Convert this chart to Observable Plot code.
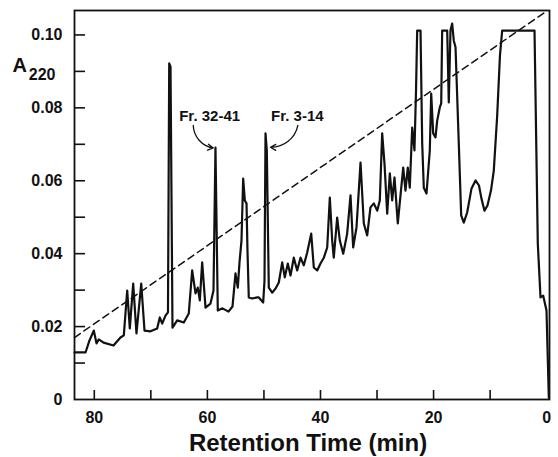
<!DOCTYPE html>
<html><head><meta charset="utf-8">
<script src="https://cdn.jsdelivr.net/npm/d3@7"></script>
<script src="https://cdn.jsdelivr.net/npm/@observablehq/plot@0.6"></script>
<style>body{margin:0;background:#fff}</style>
</head><body><div id="chart"></div>
<script>
// Chromatogram trace: retention time (min) and absorbance at 220 nm
const retentionTime = [83.5,81.55,80.85,80.09,79.61,79.20,78.37,76.60,75.37,74.78,74.18,73.72,73.12,72.54,71.70,71.12,70.06,68.88,68.42,67.99,67.41,66.97,66.75,66.52,66.17,65.34,64.17,63.29,62.69,62.10,61.70,61.34,60.92,60.33,59.45,58.92,58.57,58.16,57.33,56.27,55.56,55.03,54.62,54.32,53.97,53.67,53.38,53.08,52.91,52.68,52.08,51.19,50.91,50.13,49.90,49.72,49.49,49.14,48.54,47.96,47.37,46.77,46.31,45.78,45.30,44.72,44.12,43.53,42.95,42.35,41.64,41.18,40.58,40.00,39.41,38.81,38.35,37.93,37.65,37.05,36.58,35.98,35.28,34.69,34.22,33.63,32.92,32.34,31.74,31.16,30.57,29.97,29.51,29.09,28.68,28.20,27.74,27.32,26.91,26.33,25.85,25.37,24.97,24.56,24.21,23.78,23.38,23.10,22.90,22.31,22.01,21.73,21.25,20.67,20.42,20.07,19.66,19.36,18.90,18.65,18.48,17.59,17.31,17.01,16.71,16.43,16.12,15.54,15.12,14.66,14.06,13.29,12.58,11.97,11.53,11.00,10.47,9.85,9.35,8.75,8.26,7.87,2.15,1.57,1.09,0.62,0.03,-0.38];
const absorbance = [0.0129,0.0129,0.0162,0.0189,0.0154,0.0165,0.0156,0.0148,0.0170,0.0176,0.0299,0.0195,0.0318,0.0181,0.0318,0.0189,0.0187,0.0195,0.0225,0.0208,0.0230,0.0239,0.0922,0.0913,0.0197,0.0217,0.0211,0.0236,0.0354,0.0291,0.0307,0.0272,0.0376,0.0252,0.0263,0.0299,0.0691,0.0244,0.0250,0.0241,0.0255,0.0346,0.0307,0.0376,0.0436,0.0606,0.0546,0.0538,0.0409,0.0280,0.0277,0.0280,0.0280,0.0266,0.0326,0.0730,0.0683,0.0307,0.0293,0.0304,0.0321,0.0376,0.0335,0.0373,0.0340,0.0389,0.0354,0.0389,0.0368,0.0403,0.0455,0.0362,0.0354,0.0373,0.0389,0.0417,0.0554,0.0436,0.0389,0.0499,0.0436,0.0400,0.0455,0.0560,0.0417,0.0472,0.0650,0.0483,0.0450,0.0527,0.0538,0.0518,0.0546,0.0730,0.0647,0.0510,0.0620,0.0546,0.0609,0.0483,0.0560,0.0636,0.0573,0.0636,0.0581,0.0746,0.0683,0.0850,0.1012,0.1012,0.0702,0.0581,0.0565,0.0683,0.0839,0.0730,0.0719,0.0765,0.0801,0.0812,0.1012,0.1012,0.0815,0.1012,0.1031,0.0985,0.0966,0.0702,0.0505,0.0485,0.0513,0.0579,0.0601,0.0587,0.0551,0.0518,0.0532,0.0573,0.0628,0.0779,0.0944,0.1012,0.1012,0.0428,0.0280,0.0285,0.0244,0.0005];

// Gradient (dashed line) end points
const gradientTime = [83.5, 0.5];
const gradientValue = [0.017, 0.106];

// Axis ticks
const xTicks = [80, 70, 60, 50, 40, 30, 20, 10];
const xTickLabels = [80, 60, 40, 20, 0];
const yTicks = [0.01, 0.02, 0.03, 0.04, 0.05, 0.06, 0.07, 0.08, 0.09, 0.10];
const yTickLabels = [0, 0.02, 0.04, 0.06, 0.08, 0.10];

// Fraction annotations
const fractionNames = ["Fr. 32-41", "Fr. 3-14"];
const fractionLabelTime = [59.6, 44.1];
const fractionLabelValue = [0.0777, 0.0777];
const arrowStartTime = [62.5, 44.0];
const arrowStartValue = [0.0752, 0.0752];
const arrowEndTime = [58.97, 48.84];
const arrowEndValue = [0.0690, 0.0692];

const xTitle = "Retention Time (min)";

const trace = retentionTime.map((t, i) => ({t, a: absorbance[i]}));
const gradient = gradientTime.map((t, i) => ({t, a: gradientValue[i]}));
const labels = fractionNames.map((name, i) => ({name, t: fractionLabelTime[i], a: fractionLabelValue[i]}));
const arrows = fractionNames.map((name, i) => ({x1: arrowStartTime[i], y1: arrowStartValue[i], x2: arrowEndTime[i], y2: arrowEndValue[i]}));

const font = "'Liberation Sans', Arial, Helvetica, sans-serif";

const chart = Plot.plot({
  width: 558, height: 457,
  marginLeft: 74, marginRight: 9, marginTop: 10, marginBottom: 58,
  style: {fontFamily: font, background: "#fff", color: "#111"},
  x: {domain: [83.5, -0.5]},
  y: {domain: [0, 0.1067]},
  marks: [
    Plot.frame({stroke: "#111", strokeWidth: 1.8}),
    Plot.axisX({ticks: xTicks, tickSize: -9, tickFormat: () => "", strokeWidth: 1.6, label: null}),
    Plot.axisX({ticks: xTickLabels, tickSize: 0, tickPadding: 12, fontSize: 16, fontWeight: "bold", label: null}),
    Plot.axisY({ticks: yTicks, tickSize: -11, tickFormat: () => "", strokeWidth: 1.6, label: null}),
    Plot.axisY({ticks: yTickLabels, tickSize: 0, tickPadding: 12, fontSize: 16, fontWeight: "bold", label: null,
      tickFormat: d => d === 0 ? "0" : d.toFixed(2)}),
    Plot.line(gradient, {x: "t", y: "a", stroke: "#111", strokeWidth: 1.5, strokeDasharray: "7,4.5"}),
    Plot.line(trace, {x: "t", y: "a", stroke: "#111", strokeWidth: 2.2, strokeLinejoin: "round"}),
    Plot.text(labels, {x: "t", y: "a", text: "name", fontSize: 15, fontWeight: "bold", lineAnchor: "middle", fill: "#111"}),
    Plot.arrow([arrows[0]], {x1: "x1", y1: "y1", x2: "x2", y2: "y2", bend: -40, headLength: 7, strokeWidth: 1.3, stroke: "#111"}),
    Plot.arrow([arrows[1]], {x1: "x1", y1: "y1", x2: "x2", y2: "y2", bend: 40, headLength: 7, strokeWidth: 1.3, stroke: "#111"}),
    Plot.text([xTitle], {frameAnchor: "bottom", text: d => d, dx: -4, dy: 43.5, fontSize: 24, fontWeight: "bold", lineAnchor: "middle", fill: "#111"}),
    Plot.text(["A"], {frameAnchor: "top-left", text: d => d, textAnchor: "start", dx: -62, dy: 55.5, fontSize: 20, fontWeight: "bold", lineAnchor: "middle", fill: "#111"}),
    Plot.text(["220"], {frameAnchor: "top-left", text: d => d, textAnchor: "start", dx: -45.7, dy: 64.2, fontSize: 16, fontWeight: "bold", lineAnchor: "middle", fill: "#111"})
  ]
});
document.getElementById("chart").appendChild(chart);
</script>
</body></html>
